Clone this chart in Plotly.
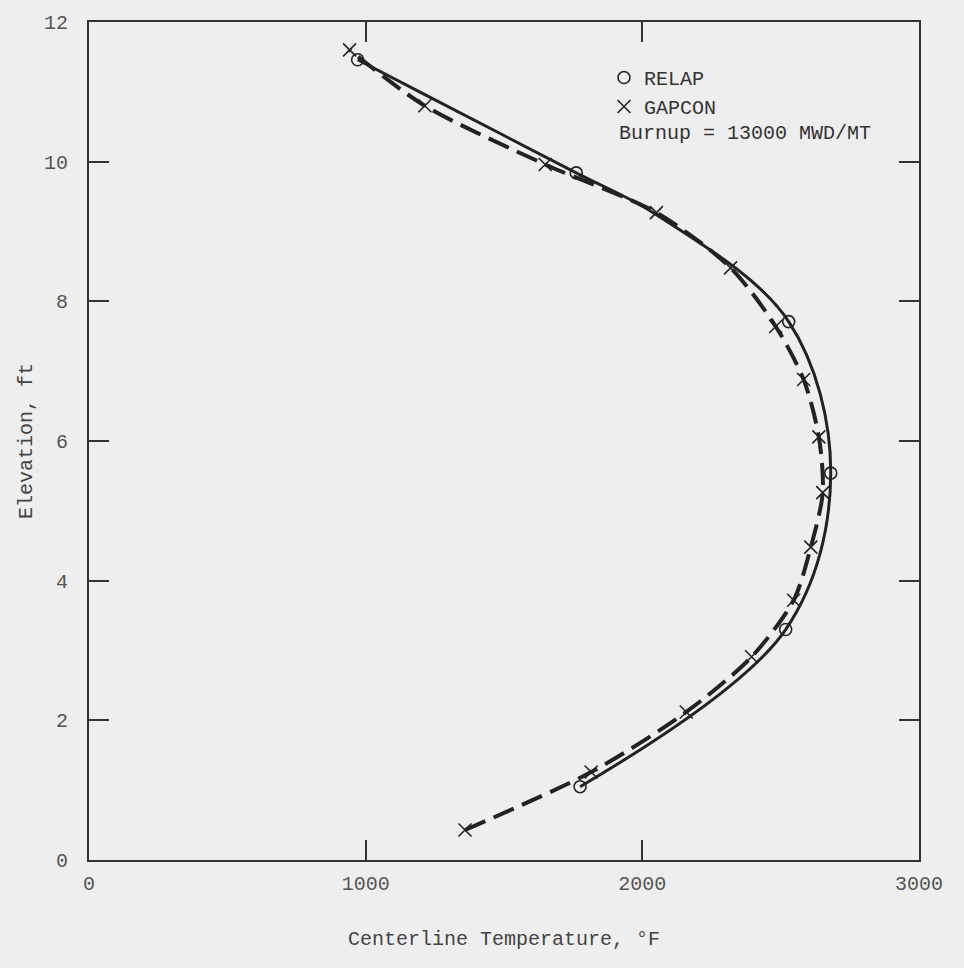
import plotly.graph_objects as go

# RELAP calculated centerline temperatures (open circles)
relap_temp = [1775, 2518, 2681, 2529, 1761, 971]
relap_elev = [1.05, 3.30, 5.54, 7.71, 9.84, 11.46]

# RELAP solid curve
relap_curve_temp = [1775, 2518, 2681, 2529, 2051, 1761, 1214, 971]
relap_curve_elev = [1.05, 3.30, 5.54, 7.71, 9.24, 9.84, 10.96, 11.46]

# GAPCON calculated centerline temperatures (dashed curve + crosses)
gapcon_temp = [1359, 1815, 2159, 2395, 2547, 2609, 2652, 2638, 2583, 2482,
               2319, 2051, 1649, 1214, 942]
gapcon_elev = [0.43, 1.26, 2.12, 2.91, 3.72, 4.48, 5.26, 6.06, 6.88, 7.64,
               8.48, 9.27, 9.96, 10.80, 11.60]

x_ticks = [0, 1000, 2000, 3000]
y_ticks = [0, 2, 4, 6, 8, 10, 12]

FONT = "Liberation Mono"
INK = "#222222"
BG = "#eeeeee"

fig = go.Figure()

fig.add_trace(go.Scatter(
    x=relap_curve_temp, y=relap_curve_elev, mode="lines",
    line=dict(color=INK, width=3, shape="spline", smoothing=1.0),
    showlegend=False, hoverinfo="skip"))
fig.add_trace(go.Scatter(
    x=gapcon_temp, y=gapcon_elev, mode="lines",
    line=dict(color=INK, width=4, shape="spline", smoothing=0.8,
              dash="22px,9px"),
    showlegend=False, hoverinfo="skip"))

fig.add_trace(go.Scatter(
    x=relap_temp, y=relap_elev, mode="markers", name="RELAP",
    marker=dict(symbol="circle-open", size=12, color=INK,
                line=dict(width=1.6, color=INK))))
fig.add_trace(go.Scatter(
    x=gapcon_temp, y=gapcon_elev, mode="markers", name="GAPCON",
    marker=dict(symbol="x-thin-open", size=13, color=INK,
                line=dict(width=1.6, color=INK))))

L, R, T, B = 89, 45, 20, 108
pw = 964 - L - R
ph = 968 - T - B

fig.add_annotation(
    x=(617 - L) / pw, y=(968 - B - 132) / ph, xref="paper", yref="paper",
    text="Burnup = 13000 MWD/MT",
    showarrow=False, xanchor="left", yanchor="middle",
    font=dict(family=FONT, size=20, color="#333333"))

axis_common = dict(
    showline=True, linecolor="#333333", linewidth=2, mirror="ticks",
    ticks="inside", ticklen=20, tickwidth=1.5, tickcolor="#333333",
    showgrid=False, zeroline=False,
    tickfont=dict(family=FONT, size=20, color="#555555"),
)

fig.update_layout(
    width=964, height=968,
    margin=dict(l=L, r=R, t=T, b=B),
    paper_bgcolor=BG, plot_bgcolor=BG,
    font=dict(family=FONT, color="#333333"),
    xaxis=dict(range=[0, 3000], tickvals=x_ticks,
               ticktext=[str(v) for v in x_ticks],
               ticklabelstandoff=4,
               title=dict(text="Centerline Temperature, °F",
                          font=dict(family=FONT, size=20, color="#444444"),
                          standoff=36),
               **axis_common),
    yaxis=dict(range=[0, 12], tickvals=y_ticks,
               ticktext=[str(v) for v in y_ticks],
               ticklabelstandoff=15,
               title=dict(text="Elevation, ft",
                          font=dict(family=FONT, size=20, color="#444444"),
                          standoff=6),
               **axis_common),
    showlegend=True,
    legend=dict(x=(604 - L) / pw, y=0.957, xanchor="left", yanchor="top",
                bgcolor="rgba(0,0,0,0)", borderwidth=0,
                font=dict(family=FONT, size=20, color="#333333"),
                itemwidth=30, tracegroupgap=0),
)

fig.write_html("out.html")
